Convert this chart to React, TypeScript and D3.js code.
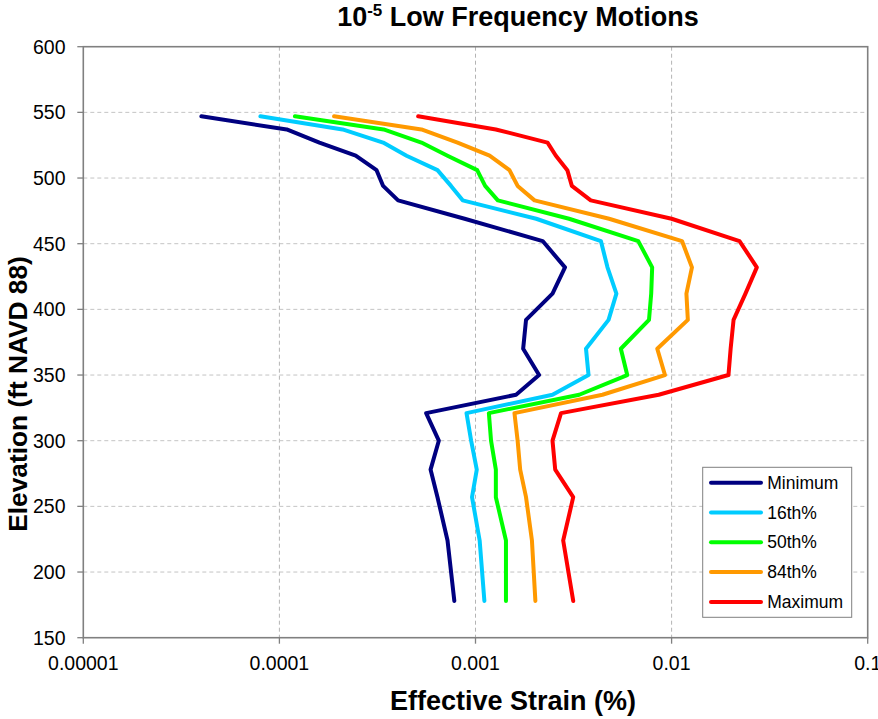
import React from "react";
import * as d3 from "d3";

const elevations = [547, 537, 527, 517, 506, 494, 483, 469, 452, 432, 412, 392, 370, 350, 335, 321, 300, 278, 257, 224, 178];

const minimum = [4.0e-5, 1.09e-4, 1.6e-4, 2.45e-4, 3.13e-4, 3.38e-4, 4.03e-4, 8.8e-4, 2.2e-3, 2.86e-3, 2.47e-3, 1.81e-3, 1.75e-3, 2.11e-3, 1.61e-3, 5.6e-4, 6.5e-4, 5.9e-4, 6.4e-4, 7.2e-4, 7.8e-4];
const p16 = [8.0e-5, 2.1e-4, 3.38e-4, 4.45e-4, 6.4e-4, 7.5e-4, 8.6e-4, 2.04e-3, 4.36e-3, 4.71e-3, 5.23e-3, 4.77e-3, 3.66e-3, 3.77e-3, 2.47e-3, 9.0e-4, 9.5e-4, 1.015e-3, 9.6e-4, 1.05e-3, 1.11e-3];
const p50 = [1.2e-4, 3.4e-4, 5.3e-4, 7.2e-4, 1.02e-3, 1.12e-3, 1.3e-3, 3.0e-3, 6.76e-3, 7.96e-3, 7.87e-3, 7.67e-3, 5.51e-3, 5.94e-3, 3.38e-3, 1.17e-3, 1.2e-3, 1.27e-3, 1.27e-3, 1.43e-3, 1.43e-3];
const p84 = [1.9e-4, 5.3e-4, 8.1e-4, 1.18e-3, 1.49e-3, 1.64e-3, 2.0e-3, 4.8e-3, 1.13e-2, 1.27e-2, 1.19e-2, 1.21e-2, 8.45e-3, 9.25e-3, 4.44e-3, 1.58e-3, 1.64e-3, 1.69e-3, 1.81e-3, 1.94e-3, 2.02e-3];
const maximum = [5.1e-4, 1.27e-3, 2.33e-3, 2.57e-3, 2.94e-3, 3.1e-3, 3.87e-3, 1.0e-2, 2.22e-2, 2.72e-2, 2.38e-2, 2.07e-2, 2.0e-2, 1.95e-2, 8.6e-3, 2.73e-3, 2.47e-3, 2.55e-3, 3.15e-3, 2.8e-3, 3.15e-3];

const seriesNames = ["Minimum", "16th%", "50th%", "84th%", "Maximum"];
const seriesValues = [minimum, p16, p50, p84, maximum];
const seriesColors = ["#000080", "#00CCFF", "#00FF00", "#FF9900", "#FF0000"];

const xTicks = [1e-5, 1e-4, 1e-3, 1e-2, 1e-1];
const xTickLabels = ["0.00001", "0.0001", "0.001", "0.01", "0.1"];
const yTicks = [150, 200, 250, 300, 350, 400, 450, 500, 550, 600];

const W = 878;
const H = 719;
const L = 83.3, R = 867.7, T = 46.7, B = 637.7;
const FONT = "'Liberation Sans', Arial, Helvetica, sans-serif";

export default function App() {
  const x = d3.scaleLog().domain([1e-5, 0.1]).range([L, R]);
  const y = d3.scaleLinear().domain([150, 600]).range([B, T]);
  const line = d3
    .line<[number, number]>()
    .x((d) => x(d[0]))
    .y((d) => y(d[1]));

  const legendX = 702.7, legendY = 467.3, legendW = 149, legendH = 150;
  const rowY0 = 482.7, rowStep = 29.8;

  return (
    <svg width={W} height={H} style={{ position: "absolute", left: 0, top: 0, background: "#fff" }} fontFamily={FONT}>
      <rect x={0} y={0} width={W} height={H} fill="#fff" />
      {/* grid */}
      {xTicks.slice(1, -1).map((t, i) => (
        <line key={"gx" + i} x1={x(t)} x2={x(t)} y1={T} y2={B} stroke="#b4b4b4" strokeWidth={1} strokeDasharray="4,3" />
      ))}
      {yTicks.slice(1, -1).map((t, i) => (
        <line key={"gy" + i} x1={L} x2={R} y1={y(t)} y2={y(t)} stroke="#c4c4c4" strokeWidth={1} strokeDasharray="4,3" />
      ))}
      {/* frame */}
      <rect x={L} y={T} width={R - L} height={B - T} fill="none" stroke="#808080" strokeWidth={1.6} />
      {/* ticks */}
      {xTicks.map((t, i) => (
        <g key={"xt" + i}>
          <line x1={x(t)} x2={x(t)} y1={B} y2={B + 6} stroke="#808080" strokeWidth={1.3} />
          <text x={x(t)} y={669.5} textAnchor="middle" fontSize={19.5} fill="#000">
            {xTickLabels[i]}
          </text>
        </g>
      ))}
      {yTicks.map((t, i) => (
        <g key={"yt" + i}>
          <line x1={L - 6} x2={L} y1={y(t)} y2={y(t)} stroke="#808080" strokeWidth={1.3} />
          <text x={65.5} y={y(t)} dy="0.35em" textAnchor="end" fontSize={19.5} fill="#000">
            {t}
          </text>
        </g>
      ))}
      {/* series */}
      {seriesValues.map((vals, si) => (
        <path
          key={"s" + si}
          d={line(vals.map((v, i) => [v, elevations[i]] as [number, number])) || ""}
          fill="none"
          stroke={seriesColors[si]}
          strokeWidth={4}
          strokeLinejoin="round"
          strokeLinecap="round"
        />
      ))}
      {/* title */}
      <text x={518} y={26} textAnchor="middle" fontWeight="bold" fontSize={27} fill="#000">
        <tspan>10</tspan>
        <tspan fontSize={17} dy={-10}>-5</tspan>
        <tspan dy={10}> Low Frequency Motions</tspan>
      </text>
      {/* axis titles */}
      <text x={513} y={710} textAnchor="middle" fontWeight="bold" fontSize={27} fill="#000">
        Effective Strain (%)
      </text>
      <text
        transform="translate(27,394) rotate(-90)"
        textAnchor="middle"
        fontWeight="bold"
        fontSize={26.3}
        fill="#000"
      >
        Elevation (ft NAVD 88)
      </text>
      {/* legend */}
      <rect x={legendX} y={legendY} width={legendW} height={legendH} fill="#fff" stroke="#808080" strokeWidth={1} />
      {seriesNames.map((n, i) => (
        <g key={"lg" + i}>
          <line
            x1={711}
            x2={761}
            y1={rowY0 + i * rowStep}
            y2={rowY0 + i * rowStep}
            stroke={seriesColors[i]}
            strokeWidth={4}
            strokeLinecap="round"
          />
          <text x={767.3} y={rowY0 + i * rowStep} dy="0.35em" fontSize={17.5} fill="#000">
            {n}
          </text>
        </g>
      ))}
    </svg>
  );
}
